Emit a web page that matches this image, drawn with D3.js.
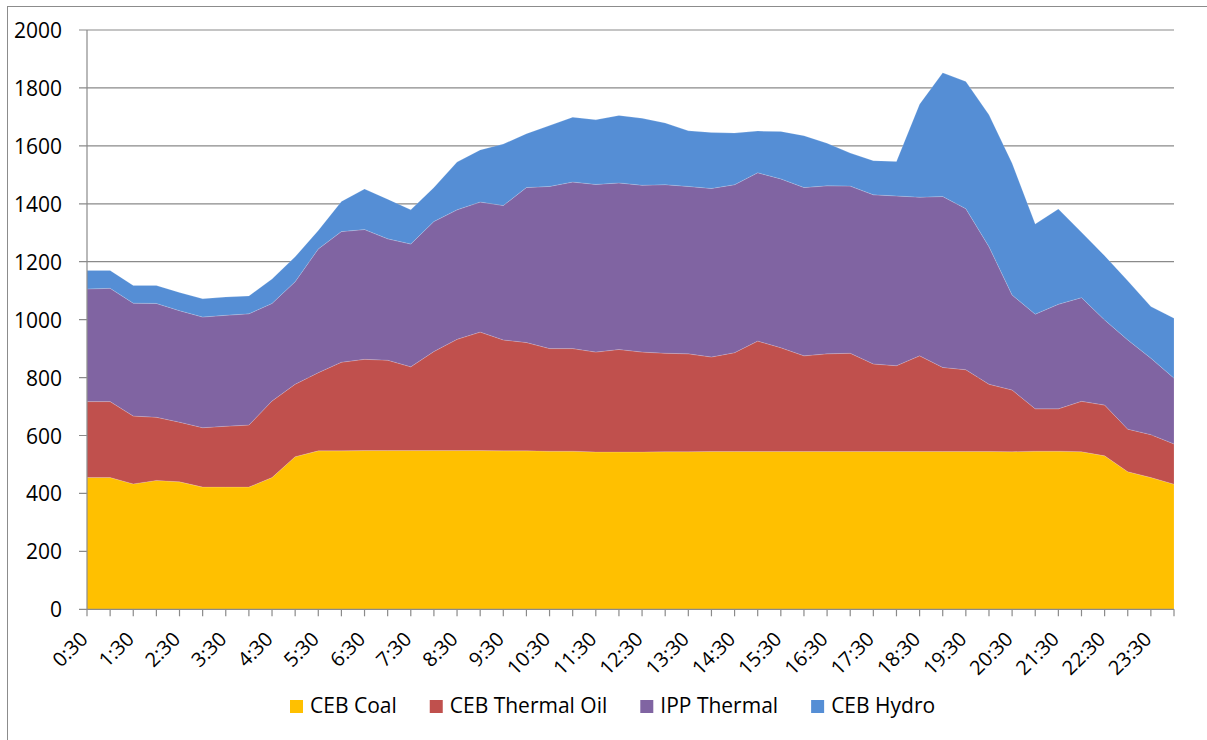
<!DOCTYPE html>
<html>
<head>
<meta charset="utf-8">
<script src="https://cdn.jsdelivr.net/npm/d3@7"></script>
<style>
  body { margin: 0; background: #fff; }
  text { font-family: "Open Sans", sans-serif; fill: #000; }
</style>
</head>
<body>
<svg id="chart" width="1207" height="740"></svg>
<script>
// Half-hourly time slots (x categories)
const times = ["0:30","1:00","1:30","2:00","2:30","3:00","3:30","4:00","4:30","5:00",
  "5:30","6:00","6:30","7:00","7:30","8:00","8:30","9:00","9:30","10:00",
  "10:30","11:00","11:30","12:00","12:30","13:00","13:30","14:00","14:30","15:00",
  "15:30","16:00","16:30","17:00","17:30","18:00","18:30","19:00","19:30","20:00",
  "20:30","21:00","21:30","22:00","22:30","23:00","23:30","24:00"];

// Generation by source (MW)
const coal = [455,455,433,445,440,422,422,422,455,527,547,547,548,548,548,548,548,548,
  547,547,546,546,543,543,543,544,544,545,545,545,545,545,545,545,545,545,545,545,545,545,
  544,546,546,544,530,475,455,432];
const thermalOil = [262,262,234,218,206,205,210,214,264,250,270,306,315,312,289,342,384,409,
  383,374,354,354,345,354,345,340,338,326,341,381,358,330,337,339,302,296,330,290,
  282,232,213,146,146,174,175,147,148,139];
const ippThermal = [389,391,390,393,385,382,383,384,337,354,427,451,448,419,424,449,447,449,
  464,535,560,575,579,575,576,582,578,582,580,581,583,581,580,577,584,586,548,590,
  556,475,328,327,361,358,294,308,264,227];
const hydro = [64,62,61,62,63,63,63,62,84,86,64,104,140,137,118,117,165,180,
  212,186,210,224,223,233,231,213,192,193,178,144,164,179,147,114,118,119,321,427,
  439,455,455,311,329,226,222,204,178,207];

const seriesNames = ["CEB Coal", "CEB Thermal Oil", "IPP Thermal", "CEB Hydro"];
const seriesColors = ["#FFC000", "#C0504D", "#8064A2", "#558ED5"];
const yTicks = [0, 200, 400, 600, 800, 1000, 1200, 1400, 1600, 1800, 2000];

// build rows for the stack
const rows = times.map((t, i) => ({
  time: t,
  "CEB Coal": coal[i],
  "CEB Thermal Oil": thermalOil[i],
  "IPP Thermal": ippThermal[i],
  "CEB Hydro": hydro[i]
}));

const svg = d3.select("#chart");
const plotLeft = 87, plotRight = 1174, plotTop = 30, plotBottom = 609.3;

const x = d3.scalePoint().domain(times).range([plotLeft, plotRight]);
const y = d3.scaleLinear().domain([0, 2000]).range([plotBottom, plotTop]);
const colors = d3.scaleOrdinal().domain(seriesNames).range(seriesColors);

// outer chart border
svg.append("rect")
  .attr("x", 7.5).attr("y", 6.5)
  .attr("width", 1400).attr("height", 900)
  .attr("fill", "none").attr("stroke", "#8c8c8c").attr("stroke-width", 1);

// gridlines
svg.append("g")
  .selectAll("line")
  .data(yTicks)
  .join("line")
  .attr("x1", plotLeft - 8).attr("x2", plotRight)
  .attr("y1", d => y(d)).attr("y2", d => y(d))
  .attr("stroke", "#8a8a8a").attr("stroke-width", 1.2);

// stacked areas
const stacked = d3.stack().keys(seriesNames)(rows);
const area = d3.area()
  .x(d => x(d.data.time))
  .y0(d => y(d[0]))
  .y1(d => y(d[1]));

svg.append("g")
  .selectAll("path")
  .data(stacked)
  .join("path")
  .attr("d", area)
  .attr("fill", d => colors(d.key))
  .attr("stroke", "rgba(255,255,255,0.25)")
  .attr("stroke-width", 0.6);

// y axis line + labels
svg.append("line")
  .attr("x1", plotLeft).attr("x2", plotLeft)
  .attr("y1", plotTop).attr("y2", plotBottom)
  .attr("stroke", "#8a8a8a").attr("stroke-width", 1.2);

svg.append("g")
  .selectAll("text")
  .data(yTicks)
  .join("text")
  .attr("x", 62)
  .attr("y", d => y(d) + 8)
  .attr("text-anchor", "end")
  .attr("font-size", 21)
  .text(d => d);

// x axis line, ticks, labels
svg.append("line")
  .attr("x1", plotLeft).attr("x2", plotRight)
  .attr("y1", plotBottom).attr("y2", plotBottom)
  .attr("stroke", "#8a8a8a").attr("stroke-width", 1.2);

svg.append("g")
  .selectAll("line")
  .data(times)
  .join("line")
  .attr("x1", d => x(d)).attr("x2", d => x(d))
  .attr("y1", plotBottom).attr("y2", plotBottom + 7)
  .attr("stroke", "#8a8a8a").attr("stroke-width", 1.2);

svg.append("g")
  .selectAll("text")
  .data(times.filter((d, i) => i % 2 === 0))
  .join("text")
  .attr("text-anchor", "end")
  .attr("font-size", 20)
  .attr("transform", d => `translate(${x(d) + 2},${plotBottom + 31}) rotate(-45)`)
  .text(d => d);

// legend
const legend = svg.append("g");
let lx = 290;
seriesNames.forEach((name) => {
  legend.append("rect")
    .attr("x", lx).attr("y", 700)
    .attr("width", 13).attr("height", 13)
    .attr("fill", colors(name));
  const t = legend.append("text")
    .attr("x", lx + 20).attr("y", 713)
    .attr("font-size", 21)
    .text(name);
  lx += 20 + t.node().getComputedTextLength() + 33;
});
</script>
</body>
</html>
